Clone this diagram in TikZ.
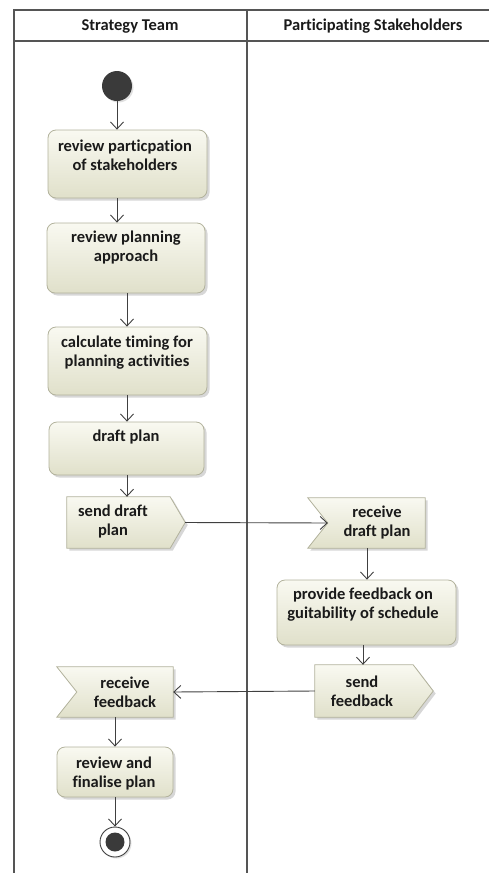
\documentclass[tikz,border=0pt]{standalone}
\usepackage{fontspec}
\setmainfont{Carlito}[Ligatures={NoCommon}]
\usetikzlibrary{arrows.meta,shadows,calc}

\definecolor{laneline}{HTML}{555555}
\definecolor{flowline}{HTML}{404040}
\definecolor{boxedge}{HTML}{B2B29C}
\definecolor{boxtop}{HTML}{F9F9F1}
\definecolor{boxbot}{HTML}{E0E0CA}
\definecolor{dot}{HTML}{3A3A3A}
\definecolor{ink}{HTML}{1A1A1A}

\tikzset{
  lane/.style={draw=laneline, line width=1.7pt},
  boxfill/.style={draw=boxedge, line width=0.8pt, top color=boxtop, bottom color=boxbot,
    drop shadow={shadow xshift=2.5pt, shadow yshift=-2.5pt, fill=black!35, opacity=0.45}},
  act/.style={boxfill, rounded corners=8pt, inner sep=0pt},
  frame/.style={inner sep=0pt, draw=none},
  txt/.style={font=\bfseries\fontsize{16.5}{19}\selectfont, text=ink, align=center, inner sep=0pt},
  head/.style={font=\bfseries\fontsize{16.5}{19}\selectfont, text=ink, inner sep=0pt},
  flow/.style={draw=flowline, line width=0.9pt, -{Straight Barb[length=7pt,width=13pt,line width=0.9pt]}},
}

\begin{document}
\begin{tikzpicture}[x=1pt,y=-1pt]
\useasboundingbox (0,0) rectangle (489,873);

% swimlane frame
\draw[lane] (14,873) -- (14,10) -- (489,10);
\draw[lane] (14,41) -- (489,41);
\draw[lane] (247,10) -- (247,873);
\node[head] (h1) at (130,26) {Strategy Team};
\node[head] (h2) at (373,26) {Participating Stakeholders};

% initial node
\node[circle, fill=dot, minimum size=30pt, inner sep=0pt,
  drop shadow={shadow xshift=1.5pt, shadow yshift=-1.5pt, fill=black!30, opacity=0.4}] (start) at (117,86) {};

% actions
\node[act, minimum width=159pt, minimum height=68pt] (a1) at (127.5,164) {};
\node[txt] (a1t) at (125,155.5) {review particpation\\of stakeholders};

\node[act, minimum width=158pt, minimum height=70pt] (a2) at (126,258) {};
\node[txt] (a2t) at (126,247.5) {review planning\\approach};

\node[act, minimum width=159pt, minimum height=68pt] (a3) at (127.5,361) {};
\node[txt] (a3t) at (127,353) {calculate timing for\\planning activities};

\node[act, minimum width=155pt, minimum height=53pt] (a4) at (126.5,448.5) {};
\node[txt] (a4t) at (126,437) {draft plan};

\node[act, minimum width=179pt, minimum height=65pt] (a5) at (366.5,612.5) {};
\node[txt] (a5t) at (363,605) {provide feedback on\\guitability of schedule};

\node[act, minimum width=116pt, minimum height=50pt] (a6) at (115,772) {};
\node[txt] (a6t) at (114,773) {review and\\finalise plan};

% send signals (pointed on the right)
\node[frame, minimum width=118pt, minimum height=51pt] (s1) at (126,522.5) {};
\path[boxfill] (s1.north west) -- ($(s1.north east)+(-15,0)$) -- (s1.east)
  -- ($(s1.south east)+(-15,0)$) -- (s1.south west) -- cycle;
\node[txt] (s1t) at (113,522) {send draft\\plan};

\node[frame, minimum width=118pt, minimum height=52pt] (s2) at (374,691) {};
\path[boxfill] (s2.north west) -- ($(s2.north east)+(-20,0)$) -- (s2.east)
  -- ($(s2.south east)+(-20,0)$) -- (s2.south west) -- cycle;
\node[txt] (s2t) at (362,691) {send\\feedback};

% receive signals (notched on the left)
\node[frame, minimum width=117pt, minimum height=50pt] (r1) at (366.5,523) {};
\coordinate (r1in) at ($(r1.west)+(20,0)$);
\path[boxfill] (r1.north west) -- (r1.north east) -- (r1.south east)
  -- (r1.south west) -- (r1in) -- cycle;
\node[txt] (r1t) at (377,522.5) {receive\\draft plan};

\node[frame, minimum width=116pt, minimum height=50pt] (r2) at (115,692) {};
\coordinate (r2in) at ($(r2.west)+(20,0)$);
\path[boxfill] (r2.north west) -- (r2.north east) -- (r2.south east)
  -- (r2.south west) -- (r2in) -- cycle;
\node[txt] (r2t) at (125,692) {receive\\feedback};

% final node
\node[circle, draw=flowline, line width=0.9pt, fill=white, minimum size=30pt, inner sep=0pt,
  drop shadow={shadow xshift=1.5pt, shadow yshift=-1.5pt, fill=black!30, opacity=0.4}] (final) at (115,842) {};
\node[circle, fill=dot, minimum size=19pt, inner sep=0pt] (finaldot) at (final.center) {};

% control flows
\draw[flow] (start.south) -- (start.south |- a1.north);
\draw[flow] (a1.south -| start) -- (a2.north -| start);
\draw[flow] ($(a2.south)+(1,0)$) -- ($(a3.north)+(-0.5,0)$);
\draw[flow] ($(a3.south)+(-0.5,0)$) -- (a4.north -| a3t);
\draw[flow] (a4.south -| a3t) -- (s1.north -| a3t);
\draw[flow] (s1.east) -- (r1in);
\draw[flow] (r1.south -| 367,0) -- (367,0 |- a5.north);
\draw[flow] (a5t.center |- a5.south) -- (a5t.center |- s2.north);
\draw[flow] (s2.west) -- (r2.east);
\draw[flow] (r2.south) -- (a6.north);
\draw[flow] (a6.south) -- (final.north);
\end{tikzpicture}
\end{document}
